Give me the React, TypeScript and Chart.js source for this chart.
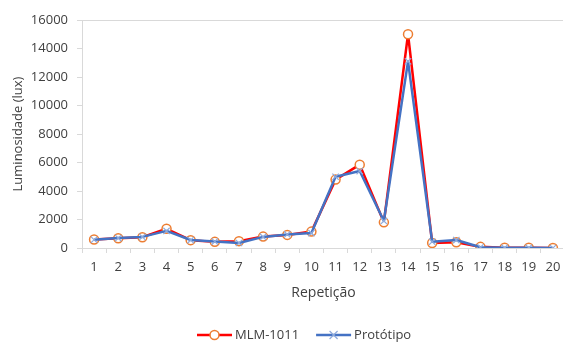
import React, { useEffect, useRef } from "react";
import { Chart, registerables } from "chart.js";

Chart.register(...registerables);

const categories = ["1","2","3","4","5","6","7","8","9","10","11","12","13","14","15","16","17","18","19","20"];
const mlmValues = [600, 680, 760, 1350, 550, 430, 480, 800, 920, 1150, 4800, 5850, 1800, 15000, 350, 400, 80, 20, 20, 0];
const protoValues = [580, 700, 780, 1200, 560, 450, 350, 780, 950, 1050, 5000, 5400, 1900, 13100, 440, 560, 50, 10, 10, 0];
const seriesNames = ["MLM-1011", "Protótipo"];
const yTitle = "Luminosidade (lux)";
const xTitle = "Repetição";

const FONT = '"Open Sans", sans-serif';
const TEXT = "#404040";
const AXIS = "#d9d9d9";

const legendPlugin = {
  id: "customLegend",
  afterDraw(chart: any) {
    const ctx = chart.ctx;
    ctx.save();
    const y = 335;
    ctx.font = `13px ${FONT}`;
    ctx.textBaseline = "middle";
    ctx.fillStyle = TEXT;
    let x = 197;
    ctx.strokeStyle = "#ff0000";
    ctx.lineWidth = 2.5;
    ctx.beginPath();
    ctx.moveTo(x, y);
    ctx.lineTo(x + 35, y);
    ctx.stroke();
    ctx.beginPath();
    ctx.arc(x + 17.5, y, 4.5, 0, Math.PI * 2);
    ctx.fillStyle = "#ffffff";
    ctx.fill();
    ctx.strokeStyle = "#ed7d31";
    ctx.lineWidth = 1.5;
    ctx.stroke();
    ctx.fillStyle = TEXT;
    ctx.textAlign = "left";
    ctx.fillText(seriesNames[0], x + 38, y);
    x = x + 38 + ctx.measureText(seriesNames[0]).width + 17;
    ctx.strokeStyle = "#4472c4";
    ctx.lineWidth = 2.5;
    ctx.beginPath();
    ctx.moveTo(x, y);
    ctx.lineTo(x + 35, y);
    ctx.stroke();
    ctx.strokeStyle = "#8faadc";
    ctx.lineWidth = 1.2;
    const cx = x + 17.5, r = 4;
    ctx.beginPath();
    ctx.moveTo(cx - r, y - r);
    ctx.lineTo(cx + r, y + r);
    ctx.moveTo(cx - r, y + r);
    ctx.lineTo(cx + r, y - r);
    ctx.stroke();
    ctx.fillStyle = TEXT;
    ctx.fillText(seriesNames[1], x + 38, y);
    ctx.restore();
  },
};

export default function App() {
  const ref = useRef<HTMLCanvasElement>(null);
  useEffect(() => {
    if (!ref.current) return;
    const chart = new Chart(ref.current, {
      type: "line",
      data: {
        labels: categories,
        datasets: [
          {
            label: seriesNames[0],
            data: mlmValues,
            borderColor: "#ff0000",
            borderWidth: 2.5,
            borderJoinStyle: "round",
            pointStyle: "circle",
            pointRadius: 4.5,
            pointBorderColor: "#ed7d31",
            pointBackgroundColor: "#ffffff",
            pointBorderWidth: 1.5,
            tension: 0,
            order: 2,
          },
          {
            label: seriesNames[1],
            data: protoValues,
            borderColor: "#4472c4",
            borderWidth: 2.5,
            borderJoinStyle: "round",
            pointStyle: "crossRot",
            pointRadius: 4.5,
            pointBorderColor: "#8faadc",
            pointBackgroundColor: "#8faadc",
            pointBorderWidth: 1.2,
            tension: 0,
            order: 1,
          },
        ],
      },
      options: {
        animation: false,
        responsive: true,
        maintainAspectRatio: false,
        layout: { padding: { top: 20, left: 0, right: 0, bottom: 41 } },
        plugins: {
          legend: { display: false },
          tooltip: { enabled: false },
        },
        scales: {
          x: {
            offset: true,
            grid: {
              offset: true,
              color: "transparent",
              tickColor: AXIS,
              tickLength: 5,
              drawTicks: true,
            },
            border: { display: true, color: AXIS, width: 1 },
            ticks: { color: TEXT, font: { family: FONT, size: 13 }, padding: 6, maxRotation: 0, autoSkip: false },
            title: {
              display: true,
              text: xTitle,
              color: TEXT,
              font: { family: FONT, size: 14 },
              padding: { top: 0, bottom: 0 },
            },
            afterFit(scale: any) {
              scale.height = 53;
            },
          },
          y: {
            min: 0,
            max: 16000,
            ticks: {
              stepSize: 2000,
              color: TEXT,
              font: { family: FONT, size: 13 },
              padding: 9,
              callback: (v: any) => String(v),
            },
            grid: {
              color: (c: any) => (c.tick && c.tick.value === 16000 ? AXIS : "transparent"),
              tickColor: AXIS,
              tickLength: 5,
              drawTicks: true,
            },
            border: { display: true, color: AXIS, width: 1 },
            title: {
              display: true,
              text: yTitle,
              color: TEXT,
              font: { family: FONT, size: 13 },
              padding: { top: 10, bottom: 0 },
            },
            afterFit(scale: any) {
              scale.width = 82;
            },
          },
        },
      },
      plugins: [legendPlugin],
    });
    return () => chart.destroy();
  }, []);
  return (
    <div style={{ position: "fixed", left: 0, top: 0, width: 563, height: 342, overflow: "hidden", background: "#fff" }}>
      <div style={{ position: "relative", width: 571, height: 342 }}>
        <canvas ref={ref} />
      </div>
    </div>
  );
}
